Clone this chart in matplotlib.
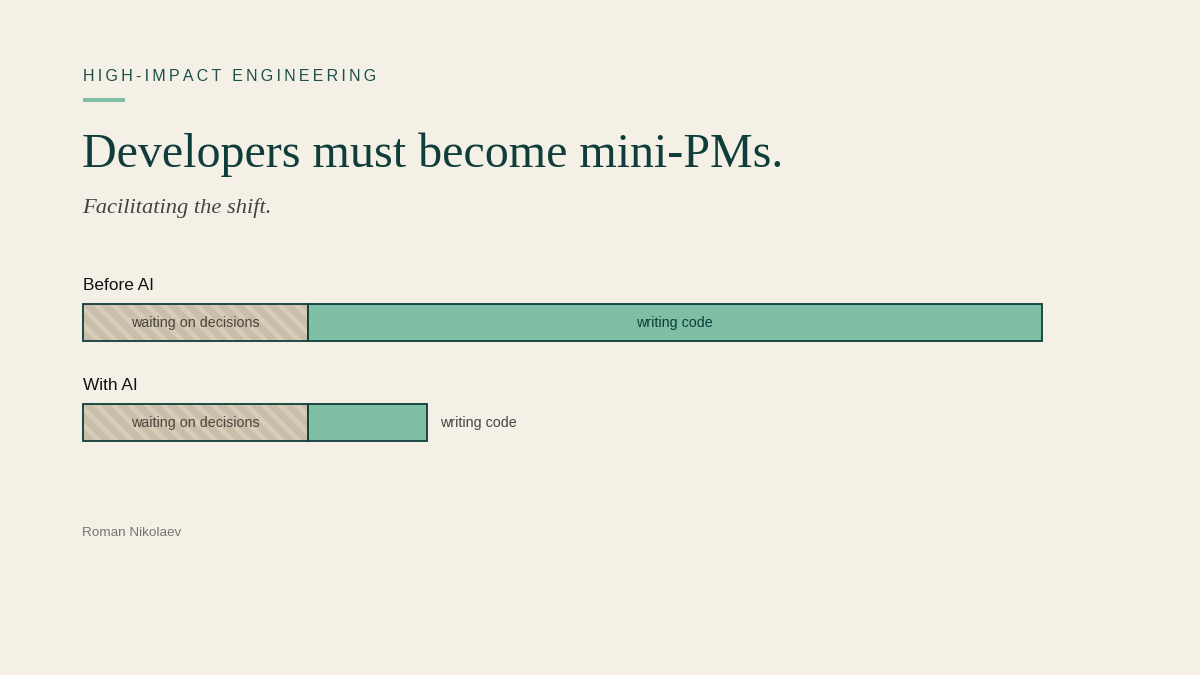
import matplotlib
matplotlib.use("Agg")
import matplotlib.pyplot as plt

BG = "#f5f0e6"
DARK = "#0f3d3a"
GREEN = "#7fbfa6"
TAN = "#d6ccb9"
STRIPE = "#c9bea8"

# share of the working time, in percent of the longest bar
rows = ["Before AI", "With AI"]
waiting = [23.5, 23.5]
writing = [76.5, 12.4]
waiting_label = "waiting on decisions"
writing_label = "writing code"

plt.rcParams["font.family"] = ["Liberation Sans", "DejaVu Sans"]
plt.rcParams["hatch.linewidth"] = 5
plt.rcParams["hatch.color"] = STRIPE

fig = plt.figure(figsize=(12, 6.75), dpi=100, facecolor=BG)

ax = fig.add_axes([83 / 1200, 1 - 472.5 / 675, 959 / 1200, 200 / 675])
ax.set_xlim(0, 100)
ax.set_ylim(1.5, -0.5)
ax.axis("off")

y = range(len(rows))
ax.barh(y, waiting, height=0.375, color=TAN, hatch="\\\\", linewidth=0)
ax.barh(y, waiting, height=0.375, fill=False, edgecolor=DARK, linewidth=1.3, clip_on=False)
ax.barh(y, writing, left=waiting, height=0.375, color=GREEN, edgecolor=DARK, linewidth=1.3, clip_on=False)

for i, row in enumerate(rows):
    ax.text(-0.03, i - 0.375, row, fontsize=12.4, color="#111111", ha="left", va="center")
    ax.text(waiting[i] / 2, i + 0.005, waiting_label, fontsize=10.3, color="#4a443c", ha="center", va="center")
    if writing[i] > 30:
        ax.text(waiting[i] + writing[i] / 2 - 0.1, i + 0.005, writing_label, fontsize=10.3, color=DARK, ha="center", va="center")
    else:
        ax.text(waiting[i] + writing[i] + 1.3, i + 0.005, writing_label, fontsize=10.3, color="#444444", ha="left", va="center")

fig.text(83 / 1200, 1 - 81 / 675, "\u2009".join("HIGH-IMPACT ENGINEERING"), fontsize=11.5, color="#1a4f4a", va="baseline")
fig.patches.append(plt.Rectangle((83 / 1200, 1 - 102 / 675), 42 / 1200, 4 / 675, transform=fig.transFigure, color=GREEN, linewidth=0))
fig.text(82 / 1200, 1 - 167 / 675, "Developers must become mini-PMs.", fontsize=34.6, family="Liberation Serif", color=DARK, va="baseline")
fig.text(82.5 / 1200, 1 - 213 / 675, "Facilitating the shift.", fontsize=16.2, family="Liberation Serif", style="italic", color="#444444", va="baseline")
fig.text(82.5 / 1200, 1 - 535.5 / 675, "Roman Nikolaev", fontsize=9.7, color="#77756e", va="baseline")

fig.savefig("out.png", dpi=100, facecolor=BG)
